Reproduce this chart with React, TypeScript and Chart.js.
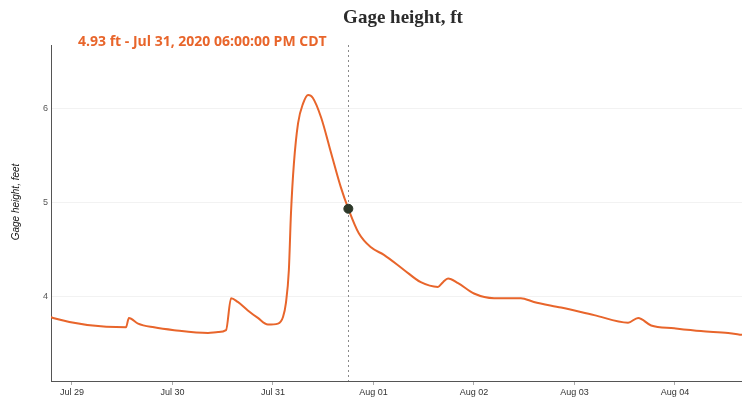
import React, { useEffect, useRef } from 'react';
import { Chart, registerables } from 'chart.js';

Chart.register(...registerables);

// Hours since Jul 29, 2020 00:00 CDT
const hours = [
  -5, -4.5, 12.9, 13.6, 15.8, 19.6, 24.4, 32.5, 34.9, 36.8, 38.0, 39.6, 42.0, 44.4, 46.8,
  49.2, 50.4, 51.1, 51.8, 52.3, 53.0, 54.0, 55.2, 56.4, 57.5, 59.5, 61.9, 64.2, 66.0,
  68.5, 71.4, 74.5, 79.3, 83.3, 87.4, 88.6, 89.8, 92.2, 96.0, 100.8, 107.2, 110.3,
  116.8, 124.7, 132.8, 135.2, 138.3, 143.8, 150.2, 156.7, 160,
];
const gageFeet = [
  3.78, 3.77, 3.67, 3.77, 3.71, 3.67, 3.64, 3.61, 3.62, 3.64, 3.98, 3.94, 3.85, 3.77, 3.70,
  3.71, 3.78, 3.93, 4.28, 4.88, 5.41, 5.84, 6.05, 6.14, 6.11, 5.90, 5.52, 5.16, 4.93,
  4.67, 4.52, 4.44, 4.28, 4.15, 4.10, 4.15, 4.19, 4.14, 4.03, 3.98, 3.98, 3.94,
  3.88, 3.80, 3.72, 3.77, 3.69, 3.66, 3.63, 3.61, 3.59,
];

const xTickHours = [0, 24, 48, 72, 96, 120, 144];
const xTickLabels = ['Jul 29', 'Jul 30', 'Jul 31', 'Aug 01', 'Aug 02', 'Aug 03', 'Aug 04'];
const yTickValues = [4, 5, 6];

const markerHour = 66;
const markerValue = 4.93;

const titleText = 'Gage height, ft';
const subtitleText = '4.93 ft - Jul 31, 2020 06:00:00 PM CDT';
const yAxisTitle = 'Gage height, feet';

const ORANGE = '#e8652b';

const overlayPlugin = {
  id: 'overlay',
  beforeDatasetsDraw(chart: any) {
    const { ctx, chartArea, scales } = chart;
    const x = scales.x.getPixelForValue(markerHour);
    ctx.save();
    ctx.strokeStyle = '#8a8a8a';
    ctx.lineWidth = 1;
    ctx.setLineDash([2, 3]);
    ctx.beginPath();
    ctx.moveTo(Math.round(x) + 0.5, chartArea.top);
    ctx.lineTo(Math.round(x) + 0.5, chartArea.bottom);
    ctx.stroke();
    ctx.restore();
  },
  afterDraw(chart: any) {
    const { ctx } = chart;
    ctx.save();
    ctx.fillStyle = '#2b2b2b';
    ctx.font = 'bold 19px "Liberation Serif", serif';
    ctx.textAlign = 'center';
    ctx.textBaseline = 'middle';
    ctx.fillText(titleText, 403, 18);

    ctx.fillStyle = ORANGE;
    ctx.font = 'bold 14px "Open Sans", "Liberation Sans", sans-serif';
    ctx.textAlign = 'left';
    ctx.fillText(subtitleText, 78, 42);

    ctx.fillStyle = '#111';
    ctx.font = 'italic 10px "Liberation Sans", Arial, sans-serif';
    ctx.translate(16, 202);
    ctx.rotate(-Math.PI / 2);
    ctx.textAlign = 'center';
    ctx.fillText(yAxisTitle, 0, 0);
    ctx.restore();
  },
};

export default function App() {
  const canvasRef = useRef<HTMLCanvasElement | null>(null);

  useEffect(() => {
    if (!canvasRef.current) return;
    const lineData = hours.map((h, i) => ({ x: h, y: gageFeet[i] }));
    const chart = new Chart(canvasRef.current, {
      type: 'line',
      data: {
        datasets: [
          {
            data: [{ x: markerHour, y: markerValue }],
            showLine: false,
            pointRadius: 4.5,
            pointBackgroundColor: '#2d3829',
            pointBorderColor: '#2d3829',
            order: 0,
          },
          {
            data: lineData,
            borderColor: ORANGE,
            borderWidth: 2,
            pointRadius: 0,
            fill: false,
            cubicInterpolationMode: 'monotone',
            order: 1,
          },
        ],
      },
      options: {
        responsive: false,
        animation: false,
        layout: { autoPadding: false, padding: { top: 45, left: 0, right: 0, bottom: 0 } },
        plugins: {
          legend: { display: false },
          tooltip: { enabled: false },
          title: { display: false },
        },
        scales: {
          x: {
            type: 'linear',
            min: -5,
            max: 160,
            afterBuildTicks: (s: any) => {
              s.ticks = xTickHours.map((v) => ({ value: v }));
            },
            afterFit: (s: any) => {
              s.height = 19;
            },
            ticks: {
              autoSkip: false,
              maxRotation: 0,
              padding: 2,
              color: '#333',
              font: { family: '"Liberation Sans", Arial, sans-serif', size: 9 },
              callback: (v: any) => xTickLabels[xTickHours.indexOf(Number(v))] ?? '',
            },
            grid: { drawOnChartArea: false, tickLength: 4, color: '#aaa' },
            border: { color: '#555', width: 1 },
          },
          y: {
            min: 3.1,
            max: 6.67,
            afterBuildTicks: (s: any) => {
              s.ticks = yTickValues.map((v) => ({ value: v }));
            },
            afterFit: (s: any) => {
              s.width = 51;
            },
            ticks: {
              padding: 3,
              color: '#555',
              font: { family: '"Liberation Sans", Arial, sans-serif', size: 9 },
            },
            grid: { color: 'rgba(0,0,0,0.05)', drawTicks: false },
            border: { color: '#555', width: 1 },
          },
        },
      },
      plugins: [overlayPlugin],
    } as any);
    return () => chart.destroy();
  }, []);

  return (
    <div style={{ position: 'fixed', left: 0, top: 0, width: 742, height: 400, background: '#fff' }}>
      <canvas ref={canvasRef} width={742} height={400} style={{ display: 'block' }} />
    </div>
  );
}
